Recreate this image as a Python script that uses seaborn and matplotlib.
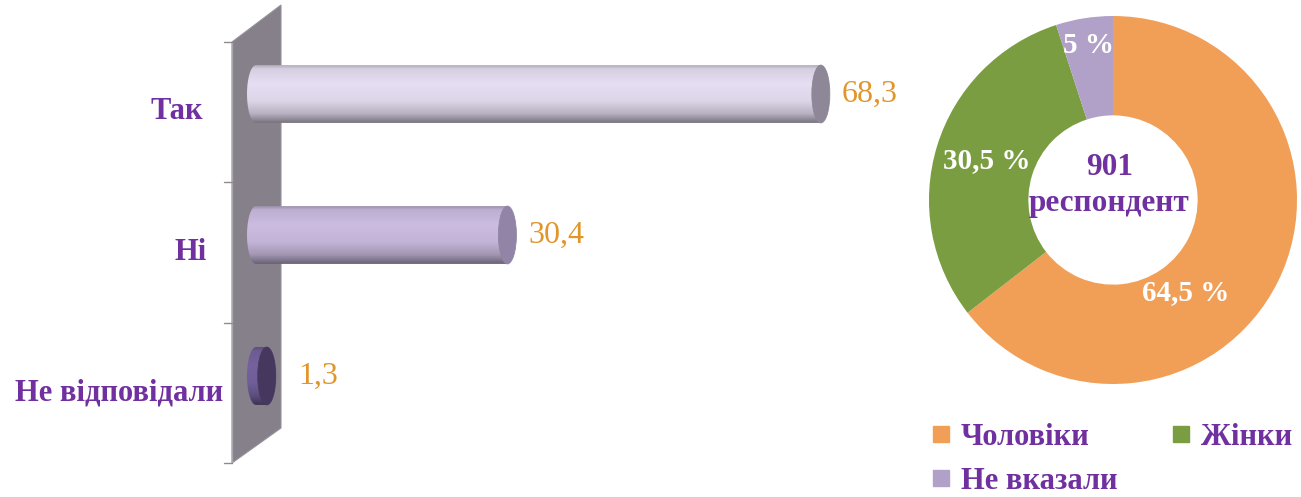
import numpy as np
import pandas as pd
import matplotlib
matplotlib.use("Agg")
import matplotlib.pyplot as plt
import matplotlib.transforms as mtransforms
from matplotlib.patches import Polygon, Ellipse
from matplotlib.lines import Line2D
import seaborn as sns

# --- data -------------------------------------------------------------
answers = ["Так", "Ні", "Не відповідали"]
answer_share = [68.3, 30.4, 1.3]

gender = ["Чоловіки", "Жінки", "Не вказали"]
gender_share = [64.5, 30.5, 5.0]
respondents = 901

# --- style ------------------------------------------------------------
sns.set_theme(style="white")
plt.rcParams["font.family"] = ["Liberation Serif", "DejaVu Serif"]

PURPLE = "#7030A0"
VALUE_ORANGE = "#E0962A"
pie_colors = ["#F19F57", "#7A9D42", "#B1A1C9"]
body_colors = ["#E6DEF2", "#CBBCE0", "#75629E"]
cap_colors = ["#8D8797", "#9184A6", "#45375E"]


def fmt(v):
    return f"{v:g}".replace(".", ",")


W, H = 1301, 497
fig = plt.figure(figsize=(W / 100, H / 100), dpi=100)


def pixel_box(x0, y0, x1, y1):
    """Figure-fraction rect from pixel edges measured from the top-left."""
    return [x0 / W, 1 - y1 / H, (x1 - x0) / W, (y1 - y0) / H]


# backdrop layer in pixel units: the slanted wall behind the cylinders
bg = fig.add_axes([0, 0, 1, 1])
bg.set_xlim(0, W)
bg.set_ylim(H, 0)
bg.axis("off")
bg.add_patch(Polygon([(232, 42), (281, 5), (281, 428), (232, 463)], closed=True,
                     facecolor="#86808B", edgecolor="#96919C", lw=0.8))
bg.plot([232, 232], [42, 463], color="#A9A5AD", lw=1)
for ty in np.linspace(42, 463, len(answers) + 1):
    bg.plot([224, 232], [ty, ty], color="#8E8A92", lw=1)

# --- cylinder bar chart ---------------------------------------------
ax = fig.add_axes(pixel_box(0, 0, 900, H))
ax.set_zorder(2)
ax.patch.set_alpha(0)
df = pd.DataFrame({"answer": answers, "share": answer_share})
sns.barplot(data=df, x="share", y="answer", orient="h", width=0.41,
            color=body_colors[0], saturation=1, ax=ax)

px_per_unit = 8.27   # horizontal scale
x0_px = 256          # pixel position of zero
row_px = 141         # pixel distance between categories
first_row_px = 94


def set_limits():
    ax.set_xlim(-x0_px / px_per_unit, (900 - x0_px) / px_per_unit)
    ax.set_ylim((H - first_row_px) / row_px, -first_row_px / row_px)


set_limits()
ax.axis("off")

ea = 9 / px_per_unit  # half-width of the elliptical ends, data units
shade = np.interp(np.linspace(0, 1, 80),
                  [0, 0.06, 0.32, 0.62, 0.84, 1.0],
                  [0.78, 0.93, 1.0, 0.96, 0.80, 0.52])
label_pad_px = [21, 21, 31]

for i, bar in enumerate(list(ax.patches)):
    bx, by = bar.get_x(), bar.get_y()
    bw, bh = bar.get_width(), bar.get_height()
    bar.set_visible(False)
    yc = by + bh / 2

    t = np.linspace(np.pi / 2, 3 * np.pi / 2, 48)
    outline = np.column_stack([bx + ea * np.cos(t), yc - (bh / 2) * np.sin(t)])
    outline = np.vstack([outline, [bx + bw, by + bh], [bx + bw, by]])
    clip = Polygon(outline, closed=True, transform=ax.transData,
                   facecolor="none", edgecolor="none")
    ax.add_patch(clip)

    base = np.array(matplotlib.colors.to_rgb(body_colors[i]))
    grad = np.clip(shade[:, None] * base[None, :], 0, 1)[:, None, :]
    im = ax.imshow(grad, extent=(bx - ea, bx + bw, by + bh, by), origin="upper",
                   aspect="auto", interpolation="bilinear", zorder=3)
    im.set_clip_path(clip)

    ax.add_patch(Ellipse((bx + bw, yc), 2 * ea, bh, facecolor=cap_colors[i],
                         edgecolor=cap_colors[i], lw=0.6, zorder=4))

    ax.annotate(fmt(answer_share[i]), xy=(bx + bw, yc), xytext=(label_pad_px[i], 0),
                textcoords="offset pixels", ha="left", va="center",
                fontsize=23, color=VALUE_ORANGE, zorder=5)

set_limits()

# category names, aligned to the front edge of the wall
label_right_px = [203, 207, 223]
lab_tr = mtransforms.blended_transform_factory(bg.transData, ax.transData)
for i, name in enumerate(answers):
    ax.text(label_right_px[i], i + 25 / row_px, name, transform=lab_tr,
            ha="right", va="baseline", fontsize=22, fontweight="bold",
            color=PURPLE)

# --- donut -------------------------------------------------------------
ax2 = fig.add_axes(pixel_box(929, 16, 1297, 384))
wedges, _ = ax2.pie(gender_share, colors=pie_colors, startangle=90,
                    counterclock=False, radius=1,
                    wedgeprops=dict(width=0.54, edgecolor="none"))
ax2.set_xlim(-1, 1)
ax2.set_ylim(-1, 1)

label_frac = [0.39, 0.5, 0.5]
label_r = [0.64, 0.72, 0.85]
for w, v, f, r in zip(wedges, gender_share, label_frac, label_r):
    ang = np.deg2rad(w.theta1 + (w.theta2 - w.theta1) * f)
    ax2.text(r * np.cos(ang), r * np.sin(ang), f"{fmt(v)} %", ha="center",
             va="center", fontsize=21, fontweight="bold", color="white")

ax2.text(-0.02, 0.08, f"{respondents}\nреспондент", ha="center", va="center",
         fontsize=22.5, fontweight="bold", color=PURPLE, linespacing=1.3)

# --- legend -----------------------------------------------------------
handles = [Line2D([], [], marker="s", ls="none", markersize=11,
                  markerfacecolor=c, markeredgecolor=c) for c in pie_colors]
order = [0, 2, 1]
fig.legend([handles[k] for k in order], [gender[k] for k in order], ncol=2,
           loc="upper left", bbox_to_anchor=(930 / W, 1 - 423 / H),
           frameon=False, prop=dict(family="Liberation Serif", weight="bold", size=22),
           labelcolor=PURPLE, handlelength=0.7, handletextpad=0.3,
           columnspacing=1.75, labelspacing=0.48, borderaxespad=0, borderpad=0)

fig.savefig("out.png", dpi=100)
